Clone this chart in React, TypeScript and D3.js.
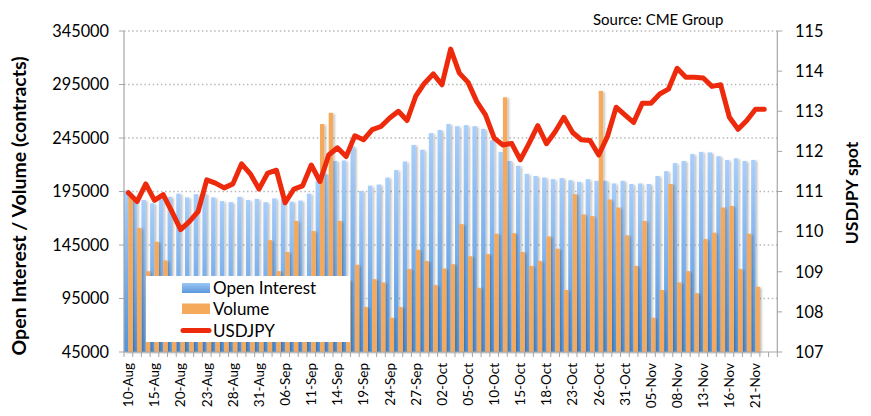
import React from 'react';
import * as d3 from 'd3';

const categories = [
  '10-Aug','13-Aug','14-Aug','15-Aug','16-Aug','17-Aug','20-Aug','21-Aug','22-Aug','23-Aug','24-Aug','27-Aug','28-Aug','29-Aug','30-Aug','31-Aug',
  '04-Sep','05-Sep','06-Sep','07-Sep','10-Sep','11-Sep','12-Sep','13-Sep','14-Sep','17-Sep','18-Sep','19-Sep','20-Sep','21-Sep','24-Sep','25-Sep','26-Sep','27-Sep','28-Sep',
  '01-Oct','02-Oct','03-Oct','04-Oct','05-Oct','08-Oct','09-Oct','10-Oct','11-Oct','12-Oct','15-Oct','16-Oct','17-Oct','18-Oct','19-Oct','22-Oct','23-Oct','24-Oct','25-Oct','26-Oct','29-Oct','30-Oct','31-Oct',
  '01-Nov','02-Nov','05-Nov','06-Nov','07-Nov','08-Nov','09-Nov','12-Nov','13-Nov','14-Nov','15-Nov','16-Nov','19-Nov','20-Nov','21-Nov','22-Nov','23-Nov'
];

const openInterest = [
  196000,186000,187000,184000,191000,190000,193000,189500,192500,193000,189500,186000,185000,190000,187000,188000,
  185000,188500,188000,185500,186500,193000,205500,211000,223500,224000,237000,195500,200500,201500,208000,215000,223000,238500,234000,
  249500,252500,258000,256000,257000,256000,253500,243000,232000,223500,219000,211500,209500,208000,206500,207500,205500,204000,206500,205000,205000,202500,205000,
  202000,202500,202000,209500,214000,221500,223500,230000,232000,231500,228000,224500,226000,223500,224500
];

const volume = [
  190000,161000,120500,148000,130500,100000,95000,105000,98000,108000,102000,96000,110000,104000,99000,106000,
  149500,120500,138500,167500,110000,158000,258000,268500,167500,112000,126500,87000,113000,110000,77000,87000,122500,140500,130000,
  107500,123000,127000,164500,134500,105000,136500,155500,283000,156000,138500,125500,130000,153000,141500,103000,192500,173500,172000,289000,187500,180000,154000,
  125500,167500,77000,103000,202000,110000,120500,100000,150500,156500,180000,181500,122500,155500,106000
];

const usdjpy = [
  110.97,110.75,111.19,110.78,110.92,110.50,110.05,110.25,110.50,111.29,111.21,111.09,111.19,111.69,111.44,111.06,
  111.46,111.53,110.72,111.06,111.14,111.66,111.25,111.91,112.09,111.87,112.39,112.29,112.54,112.62,112.83,113.00,112.77,113.38,113.70,
  113.93,113.66,114.55,113.95,113.72,113.24,112.91,112.33,112.16,112.20,111.79,112.20,112.64,112.19,112.49,112.85,112.47,112.29,112.27,111.91,112.37,113.10,112.91,
  112.72,113.20,113.20,113.43,113.55,114.07,113.85,113.85,113.83,113.62,113.66,112.85,112.55,112.77,113.05,113.05
];

const leftTicks = [45000, 95000, 145000, 195000, 245000, 295000, 345000];
const rightTicks = [107, 108, 109, 110, 111, 112, 113, 114, 115];

const FONT = "Lato, 'Open Sans', 'DejaVu Sans', sans-serif";

export default function App() {
  const W = 871, H = 416;
  const x0 = 124, x1 = 777.3, yTop = 31, yBot = 352;
  const x = d3.scaleBand<string>().domain(categories).range([x0, x1]).padding(0);
  const yL = d3.scaleLinear().domain([45000, 345000]).range([yBot, yTop]);
  const yR = d3.scaleLinear().domain([107, 115]).range([yBot, yTop]);
  const bw = x.bandwidth();

  const line = d3.line<number>()
    .x((_, i) => (x(categories[i]) as number) + bw / 2)
    .y((d) => yR(d))
    .curve(d3.curveLinear);

  return (
    <svg width={W} height={H} style={{ position: 'absolute', left: 0, top: 0, background: '#fff' }}
      xmlns="http://www.w3.org/2000/svg">
      <defs>
        <linearGradient id="blueGrad" x1="0" y1="0" x2="0" y2="1">
          <stop offset="0" stopColor="#a9cefa" />
          <stop offset="1" stopColor="#5194dc" />
        </linearGradient>
        <linearGradient id="blueSw" x1="0" y1="0" x2="0" y2="1">
          <stop offset="0" stopColor="#9cc6f5" />
          <stop offset="1" stopColor="#5a98dc" />
        </linearGradient>
        <filter id="shadow" x="-50%" y="-5%" width="200%" height="110%">
          <feDropShadow dx="1.6" dy="1" stdDeviation="0.9" floodColor="#000" floodOpacity="0.28" />
        </filter>
      </defs>
      <rect x={0} y={0} width={W} height={H} fill="#fff" />

      {/* gridlines */}
      {leftTicks.slice(1).map((t) => (
        <line key={'g' + t} x1={x0} x2={x1} y1={yL(t)} y2={yL(t)} stroke="#b8b8b8" strokeWidth={1.3}
          strokeDasharray="1.5,2.6" />
      ))}

      {/* open interest bars */}
      <g filter="url(#shadow)">
        {openInterest.map((v, i) => (
          <rect key={'oi' + i} x={(x(categories[i]) as number)} width={bw / 2}
            y={yL(v)} height={yBot - yL(v)} fill="url(#blueGrad)" />
        ))}
      </g>
      {/* volume bars */}
      <g filter="url(#shadow)">
        {volume.map((v, i) => (
          <rect key={'vo' + i} x={(x(categories[i]) as number) + bw / 2} width={bw / 2}
            y={yL(v)} height={yBot - yL(v)} fill="#f5a95b" />
        ))}
      </g>

      {/* axes */}
      <line x1={x0} x2={x0} y1={yTop} y2={yBot} stroke="#a6a6a6" strokeWidth={1.2} />
      <line x1={x1} x2={x1} y1={yTop} y2={yBot} stroke="#a6a6a6" strokeWidth={1.2} />
      <line x1={x0} x2={x1} y1={yBot} y2={yBot} stroke="#a6a6a6" strokeWidth={1.2} />
      {categories.map((c, i) => (
        <line key={'xt' + i} x1={(x(c) as number) + bw} x2={(x(c) as number) + bw} y1={yBot} y2={yBot + 5}
          stroke="#a6a6a6" strokeWidth={1} />
      ))}
      <line x1={x0} x2={x0} y1={yBot} y2={yBot + 5} stroke="#a6a6a6" strokeWidth={1} />
      {leftTicks.map((t) => (
        <line key={'lt' + t} x1={x0 - 5} x2={x0} y1={yL(t)} y2={yL(t)} stroke="#a6a6a6" strokeWidth={1} />
      ))}
      {rightTicks.map((t) => (
        <line key={'rt' + t} x1={x1} x2={x1 + 5} y1={yR(t)} y2={yR(t)} stroke="#a6a6a6" strokeWidth={1} />
      ))}

      {/* USDJPY line */}
      <path d={line(usdjpy) || ''} fill="none" stroke="#ee2a0c" strokeWidth={5} strokeLinejoin="round" strokeLinecap="round" />

      {/* tick labels */}
      {leftTicks.map((t) => (
        <text key={'ll' + t} x={109} y={yL(t)} dy="0.36em" textAnchor="end" fontFamily={FONT} fontSize={16.3} fill="#000">{t}</text>
      ))}
      {rightTicks.map((t) => (
        <text key={'rl' + t} x={795} y={yR(t)} dy="0.36em" textAnchor="start" fontFamily={FONT} fontSize={16.3} fill="#000">{t}</text>
      ))}
      {categories.map((c, i) => i % 3 === 0 ? (
        <text key={'xl' + i} transform={`translate(${(x(c) as number) + bw / 2},${yBot + 11}) rotate(-90)`}
          textAnchor="end" dy="0.36em" fontFamily={FONT} fontSize={13.5} fill="#000">{c}</text>
      ) : null)}

      {/* titles */}
      <text transform="translate(19,206) rotate(-90)" textAnchor="middle" dy="0.36em" fontFamily={FONT}
        fontWeight="bold" fontSize={19.5} fill="#000">Open Interest / Volume (contracts)</text>
      <text transform="translate(852,193) rotate(-90)" textAnchor="middle" dy="0.36em" fontFamily={FONT}
        fontWeight="bold" fontSize={17.5} fill="#000">USDJPY spot</text>
      <text x={593} y={25} fontFamily={FONT} fontSize={15} fill="#000">Source: CME Group</text>

      {/* legend */}
      <rect x={146} y={276} width={204} height={66} fill="#fff" />
      <rect x={182} y={283} width={28} height={10} fill="url(#blueSw)" />
      <rect x={182} y={303.5} width={28} height={10.5} fill="#f5a95b" />
      <line x1={183} x2={209} y1={330.5} y2={330.5} stroke="#ee2a0c" strokeWidth={5} strokeLinecap="round" />
      <text x={213} y={294} fontFamily={FONT} fontSize={17} fill="#000">Open Interest</text>
      <text x={213} y={315} fontFamily={FONT} fontSize={17} fill="#000">Volume</text>
      <text x={213} y={336.5} fontFamily={FONT} fontSize={17} fill="#000">USDJPY</text>
    </svg>
  );
}
